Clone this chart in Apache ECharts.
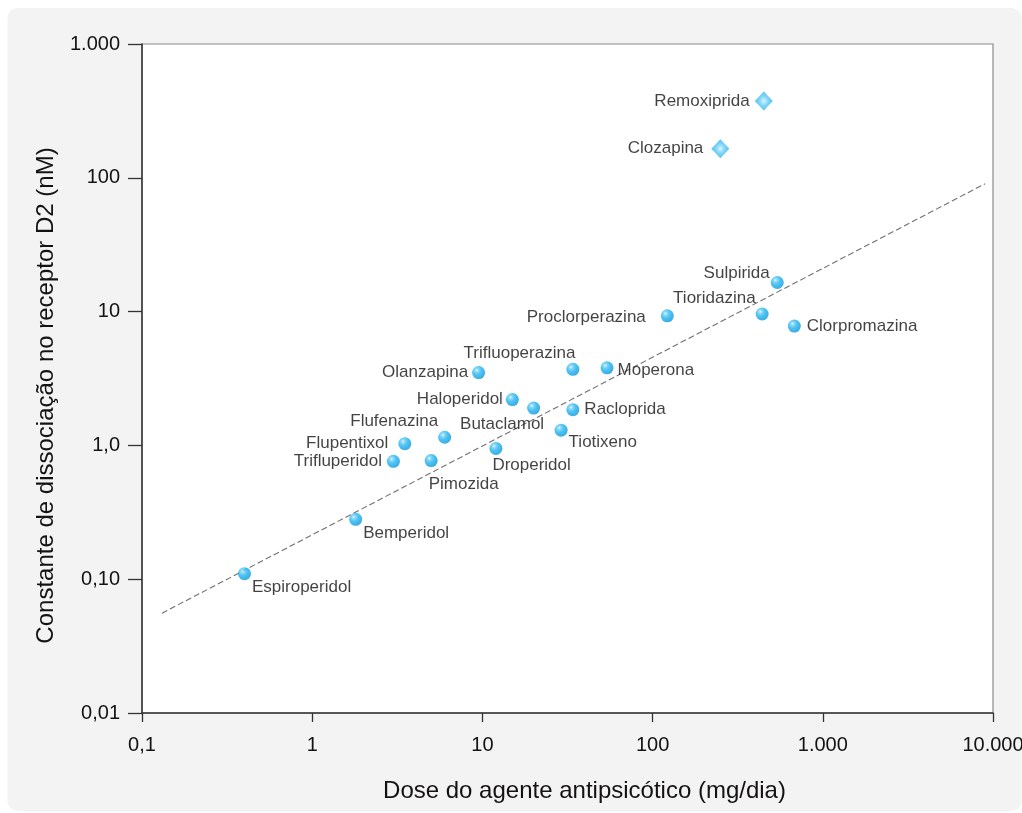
<!DOCTYPE html>
<html>
<head>
<meta charset="utf-8">
<title>Dose antipsicótica vs. afinidade D2</title>
<script src="https://cdn.jsdelivr.net/npm/echarts@6/dist/echarts.min.js"></script>
<style>
  html, body { margin: 0; padding: 0; background: #ffffff; }
  #chart { width: 1022px; height: 813px; }
</style>
</head>
<body>
<div id="chart"></div>
<script>
// Typical antipsychotics: daily dose (mg/dia) vs. D2 dissociation constant (nM)
const drugs = ['Espiroperidol', 'Bemperidol', 'Trifluperidol', 'Flupentixol', 'Flufenazina',
  'Pimozida', 'Droperidol', 'Butaclamol', 'Haloperidol', 'Olanzapina', 'Trifluoperazina',
  'Moperona', 'Racloprida', 'Tiotixeno', 'Proclorperazina', 'Tioridazina', 'Sulpirida',
  'Clorpromazina'];
const doseMg = [0.4, 1.8, 3.0, 3.5, 6.0, 5.0, 12, 20, 15, 9.5, 34, 54, 34, 29, 122, 440, 540, 680];
const kdNm = [0.11, 0.28, 0.76, 1.03, 1.15, 0.77, 0.95, 1.9, 2.2, 3.5, 3.7, 3.8, 1.85, 1.3, 9.3, 9.6, 16.5, 7.8];

// Atypical agents drawn as diamonds
const atypicalDrugs = ['Clozapina', 'Remoxiprida'];
const atypicalDose = [250, 450];
const atypicalKd = [165, 375];

// Regression line endpoints
const fitDose = [0.131, 8970];
const fitKd = [0.0557, 90.2];

// Tick labels (Portuguese number format)
const xTickLabels = ['0,1', '1', '10', '100', '1.000', '10.000'];
const yTickLabels = ['0,01', '0,10', '1,0', '10', '100', '1.000'];

// Label placement for each drug name
const labelPlace = {
  'Espiroperidol': ['right', [-4, 14]],
  'Bemperidol': ['right', [-4, 14]],
  'Trifluperidol': ['left', [0, 0]],
  'Flupentixol': ['left', [-5, 0]],
  'Flufenazina': ['left', [5, -16]],
  'Pimozida': ['right', [-14, 24]],
  'Droperidol': ['right', [-15, 17]],
  'Butaclamol': ['left', [22, 16]],
  'Haloperidol': ['left', [2, 0]],
  'Olanzapina': ['left', [1, 0]],
  'Trifluoperazina': ['left', [14, -16]],
  'Moperona': ['right', [-1, 2]],
  'Racloprida': ['right', [0, 0]],
  'Tiotixeno': ['right', [-4, 12]],
  'Proclorperazina': ['left', [-10, 1]],
  'Tioridazina': ['left', [5, -16]],
  'Sulpirida': ['left', [4, -9]],
  'Clorpromazina': ['right', [1, 0]],
  'Clozapina': ['left', [-3, 0]],
  'Remoxiprida': ['left', [0, 0]]
};

const FONT = '"Liberation Sans", Arial, Helvetica, sans-serif';
const TEXT = '#141213';

const sphere = {
  type: 'radial', x: 0.36, y: 0.32, r: 0.72,
  colorStops: [
    { offset: 0, color: '#e6f8ff' },
    { offset: 0.18, color: '#6fd0f8' },
    { offset: 0.5, color: '#1fb2ef' },
    { offset: 1, color: '#0896d8' }
  ]
};
const gem = {
  type: 'radial', x: 0.5, y: 0.5, r: 0.62,
  colorStops: [
    { offset: 0, color: '#cff2ff' },
    { offset: 0.4, color: '#5ecbf6' },
    { offset: 1, color: '#0da4ea' }
  ]
};

function pointData(names, xs, ys) {
  return names.map((n, i) => ({
    name: n,
    value: [xs[i], ys[i]],
    label: { position: labelPlace[n][0], offset: labelPlace[n][1] }
  }));
}

function tickFormatter(labels, minExp) {
  return v => {
    const k = Math.round(Math.log10(v)) - minExp;
    return labels[k] !== undefined ? labels[k] : '';
  };
}

const chart = echarts.init(document.getElementById('chart'), null, { renderer: 'canvas' });

chart.setOption({
  backgroundColor: '#ffffff',
  animation: false,
  graphic: [{
    type: 'rect',
    z: -10,
    shape: { x: 7.5, y: 8, width: 1014, height: 803, r: 10 },
    style: { fill: '#f3f3f3' }
  }],
  grid: {
    left: 142, top: 44, right: 29, bottom: 100,
    containLabel: false,
    outerBoundsMode: 'none',
    show: true,
    backgroundColor: '#ffffff',
    borderColor: '#8a8a8a',
    borderWidth: 1.2
  },
  xAxis: {
    type: 'log', logBase: 10, min: 0.1, max: 10000,
    name: 'Dose do agente antipsicótico (mg/dia)',
    nameLocation: 'middle', nameGap: 66,
    nameTextStyle: { fontFamily: FONT, fontSize: 24, color: TEXT, padding: [0, 0, 0, 34] },
    axisLine: { lineStyle: { color: '#333333', width: 1.5 } },
    axisTick: { show: true, inside: false, length: 9, lineStyle: { color: '#333333', width: 1.3 } },
    minorTick: { show: false },
    splitLine: { show: false },
    axisLabel: {
      margin: 22, fontFamily: FONT, fontSize: 20, color: TEXT,
      formatter: tickFormatter(xTickLabels, -1)
    }
  },
  yAxis: {
    type: 'log', logBase: 10, min: 0.01, max: 1000,
    name: 'Constante de dissociação no receptor D2 (nM)',
    nameLocation: 'middle', nameGap: 84, nameRotate: 90,
    nameTextStyle: { fontFamily: FONT, fontSize: 24, color: TEXT, padding: [0, 34, 0, 0] },
    axisLine: { lineStyle: { color: '#333333', width: 1.5 } },
    axisTick: { show: true, inside: false, length: 14, lineStyle: { color: '#333333', width: 1.3 } },
    minorTick: { show: false },
    splitLine: { show: false },
    axisLabel: {
      margin: 22, fontFamily: FONT, fontSize: 20, color: TEXT,
      formatter: tickFormatter(yTickLabels, -2)
    }
  },
  series: [
    {
      type: 'line',
      data: fitDose.map((d, i) => [d, fitKd[i]]),
      symbol: 'none',
      silent: true,
      lineStyle: { color: '#707070', width: 1.1, type: [6, 3] },
      z: 1
    },
    {
      type: 'scatter',
      data: pointData(drugs, doseMg, kdNm),
      symbol: 'circle',
      symbolSize: 13,
      itemStyle: { color: sphere },
      label: {
        show: true, formatter: '{b}', distance: 5,
        fontFamily: FONT, fontSize: 17, color: TEXT
      },
      z: 3
    },
    {
      type: 'scatter',
      data: pointData(atypicalDrugs, atypicalDose, atypicalKd),
      symbol: 'diamond',
      symbolSize: [18, 19],
      itemStyle: { color: gem },
      label: {
        show: true, formatter: '{b}', distance: 5,
        fontFamily: FONT, fontSize: 17, color: TEXT
      },
      z: 3
    }
  ]
});
</script>
</body>
</html>
